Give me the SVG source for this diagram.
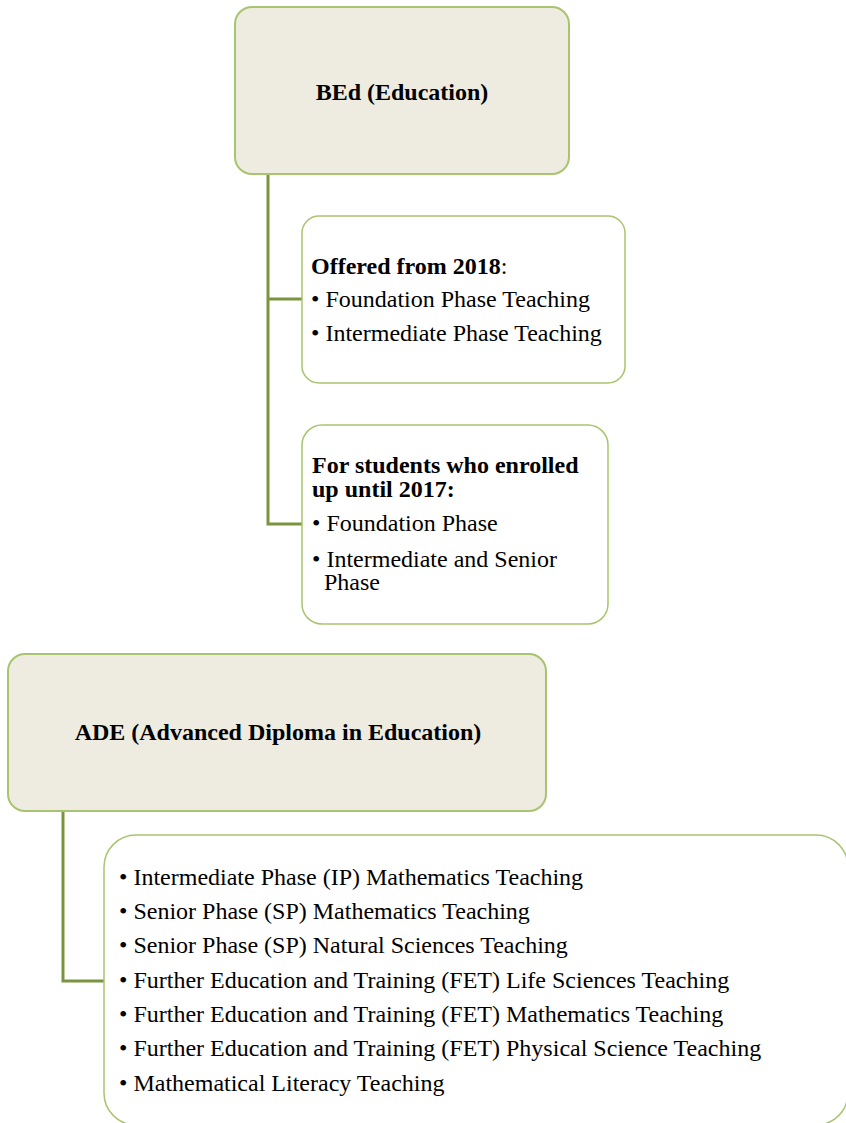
<svg xmlns="http://www.w3.org/2000/svg" width="846" height="1123" viewBox="0 0 846 1123">
<style>
.main{fill:#EEEBE0;stroke:#A9C46F;stroke-width:2}
.sub{fill:#FFFFFF;stroke:#A9C46F;stroke-width:1.5}
.conn{fill:none;stroke:#7A9440;stroke-width:3}
.t{font-family:"Liberation Serif","Times New Roman",serif;fill:#000;font-size:24px}
.b{font-weight:bold}
</style>
<rect width="846" height="1123" fill="#FFFFFF"/>
<g id="connectors">
<path class="conn" d="M268,175 V524 H302 M268,299 H302"/>
<path class="conn" d="M63,811 V981 H104"/>
</g>
<g id="bed">
<rect class="main" x="235" y="7" width="334" height="167" rx="17"/>
<text class="t b" x="402" y="100" text-anchor="middle">BEd (Education)</text>
</g>
<g id="offered">
<rect class="sub" x="302" y="216" width="323" height="167" rx="17"/>
<text class="t" x="311" y="274"><tspan class="b">Offered from 2018</tspan>:</text>
<text class="t" x="311" y="307">• Foundation Phase Teaching</text>
<text class="t" x="311" y="341">• Intermediate Phase Teaching</text>
</g>
<g id="enrolled">
<rect class="sub" x="302" y="425" width="306" height="199" rx="20"/>
<text class="t b" x="312" y="473">For students who enrolled</text>
<text class="t b" x="312" y="497">up until 2017:</text>
<text class="t" x="312" y="531">• Foundation Phase</text>
<text class="t" x="312" y="567">• Intermediate and Senior</text>
<text class="t" x="324" y="590">Phase</text>
</g>
<g id="ade">
<rect class="main" x="8" y="654" width="538" height="157" rx="17"/>
<text class="t b" x="278" y="740" text-anchor="middle">ADE (Advanced Diploma in Education)</text>
</g>
<g id="ade-list">
<rect class="sub" x="104" y="835" width="744" height="290" rx="32"/>
<text class="t" x="119" y="885">• Intermediate Phase (IP) Mathematics Teaching</text>
<text class="t" x="119" y="919">• Senior Phase (SP) Mathematics Teaching</text>
<text class="t" x="119" y="953">• Senior Phase (SP) Natural Sciences Teaching</text>
<text class="t" x="119" y="988">• Further Education and Training (FET) Life Sciences Teaching</text>
<text class="t" x="119" y="1022">• Further Education and Training (FET) Mathematics Teaching</text>
<text class="t" x="119" y="1056">• Further Education and Training (FET) Physical Science Teaching</text>
<text class="t" x="119" y="1091">• Mathematical Literacy Teaching</text>
</g>
</svg>
